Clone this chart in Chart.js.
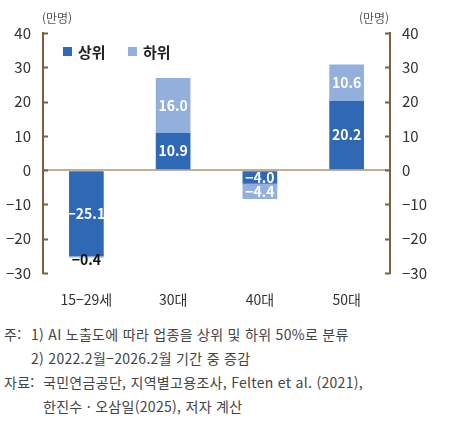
<!DOCTYPE html>
<html lang="ko">
<head>
<meta charset="utf-8">
<script src="https://cdn.jsdelivr.net/npm/chart.js@4.4.1/dist/chart.umd.min.js"></script>
<style>
  html, body { margin: 0; padding: 0; background: #fff; }
  #wrap { position: relative; width: 451px; height: 312px; }
  #notes {
    position: absolute; left: 0; top: 322px; width: 451px;
    font-family: "Noto Sans CJK KR", "Noto Sans", sans-serif;
    font-size: 14px; color: #444; line-height: 24px; letter-spacing: 0.3px;
  }
  #notes div { position: relative; white-space: nowrap; }
</style>
</head>
<body>
<div id="wrap"><canvas id="chart"></canvas></div>
<div id="notes">
  <div><span style="position:absolute;left:4px">주:</span><span style="position:absolute;left:31px">1) AI 노출도에 따라 업종을 상위 및 하위 50%로 분류</span>&nbsp;</div>
  <div><span style="position:absolute;left:31px">2) 2022.2월−2026.2월 기간 중 증감</span>&nbsp;</div>
  <div><span style="position:absolute;left:4px">자료:</span><span style="position:absolute;left:43px">국민연금공단, 지역별고용조사, Felten et al. (2021),</span>&nbsp;</div>
  <div><span style="position:absolute;left:43px">한진수 · 오삼일(2025), 저자 계산</span>&nbsp;</div>
</div>
<script>
var categories = ['15−29세', '30대', '40대', '50대'];
var upperValues = [-25.1, 10.9, -4.0, 20.2];
var lowerValues = [-0.4, 16.0, -4.4, 10.6];
var seriesNames = ['상위', '하위'];
var yMin = -30, yMax = 40, yStep = 10;
var unitLabel = '(만명)';

var AXIS_COLOR = '#7d5f3e';
var ZERO_COLOR = '#bfae98';
var FONT = '"Noto Sans CJK KR", "Noto Sans", sans-serif';

function fmt(v) {
    var s = Math.abs(v).toFixed(1);
    return (v < 0 ? '−' : '') + s;
}

var extrasPlugin = {
    id: 'extras',
    afterDatasetsDraw: function (chart) {
        var ctx = chart.ctx;
        var area = chart.chartArea;
        var y = chart.scales.y;

        // inward ticks on both axes
        ctx.save();
        ctx.strokeStyle = AXIS_COLOR;
        ctx.lineWidth = 2;
        for (var v = yMin; v <= yMax; v += yStep) {
            var py = Math.round(y.getPixelForValue(v)) + 0.5;
            ctx.beginPath();
            ctx.moveTo(area.left, py);
            ctx.lineTo(area.left + 5, py);
            ctx.moveTo(area.right - 5, py);
            ctx.lineTo(area.right, py);
            ctx.stroke();
        }
        ctx.restore();

        // value labels
        ctx.save();
        ctx.font = 'bold 14px ' + FONT;
        ctx.textAlign = 'center';
        ctx.textBaseline = 'middle';
        chart.data.datasets.forEach(function (ds, di) {
            var meta = chart.getDatasetMeta(di);
            meta.data.forEach(function (bar, i) {
                var h = Math.abs(bar.base - bar.y);
                ctx.fillStyle = h < 10 ? '#111' : '#fff';
                var cy = (bar.y + bar.base) / 2;
                if (h < 10) cy += 3;
                ctx.fillText(fmt(ds.data[i]), bar.x, cy);
            });
        });
        ctx.restore();

        // legend inside the plot
        ctx.save();
        ctx.font = 'bold 15px ' + FONT;
        ctx.textBaseline = 'middle';
        var lx = area.left + 20, ly = area.top + 19;
        chart.data.datasets.forEach(function (ds) {
            ctx.fillStyle = ds.backgroundColor;
            ctx.fillRect(lx, ly - 5, 9, 9);
            ctx.fillStyle = '#222';
            ctx.fillText(ds.label, lx + 15, ly);
            lx += 65;
        });
        ctx.restore();

        // unit labels
        ctx.save();
        ctx.font = '12px ' + FONT;
        ctx.fillStyle = '#555';
        ctx.textAlign = 'center';
        ctx.textBaseline = 'middle';
        ctx.fillText(unitLabel, area.left + 14, 18);
        ctx.fillText(unitLabel, area.right - 16, 18);
        ctx.restore();
    }
};

var ctx = document.getElementById('chart').getContext('2d');
new Chart(ctx, {
    type: 'bar',
    data: {
        labels: categories,
        datasets: [{
            label: seriesNames[0],
            data: upperValues,
            backgroundColor: '#2f69b6',
            borderWidth: 0,
            barPercentage: 0.8,
            categoryPercentage: 0.5
        }, {
            label: seriesNames[1],
            data: lowerValues,
            backgroundColor: '#93afdc',
            borderWidth: 0,
            barPercentage: 0.8,
            categoryPercentage: 0.5
        }]
    },
    options: {
        responsive: true,
        maintainAspectRatio: false,
        animation: false,
        layout: { padding: { top: 33, left: 0, right: 0, bottom: 0 } },
        plugins: {
            legend: { display: false },
            tooltip: { enabled: false }
        },
        scales: {
            x: {
                stacked: true,
                grid: { display: false },
                border: { display: false },
                ticks: { color: '#333', padding: 10, font: { family: FONT, size: 14 } },
                afterFit: function (scale) { scale.height = 39; }
            },
            y: {
                stacked: true,
                position: 'left',
                min: yMin, max: yMax,
                ticks: {
                    stepSize: yStep, padding: 12, color: '#333',
                    font: { family: FONT, size: 15 },
                    callback: function (v) { return v < 0 ? '−' + Math.abs(v) : String(v); }
                },
                grid: {
                    drawTicks: false,
                    color: function (c) { return c.tick && c.tick.value === 0 ? ZERO_COLOR : 'rgba(0,0,0,0)'; },
                    lineWidth: 2
                },
                border: { color: AXIS_COLOR, width: 2 },
                afterFit: function (scale) { scale.width = 43; }
            },
            y2: {
                position: 'right',
                min: yMin, max: yMax,
                ticks: {
                    stepSize: yStep, padding: 12, color: '#333',
                    font: { family: FONT, size: 15 },
                    callback: function (v) { return v < 0 ? '−' + Math.abs(v) : String(v); }
                },
                grid: { display: false, drawTicks: false },
                border: { color: AXIS_COLOR, width: 2 },
                afterFit: function (scale) { scale.width = 61; }
            }
        }
    },
    plugins: [extrasPlugin]
});
</script>
</body>
</html>
